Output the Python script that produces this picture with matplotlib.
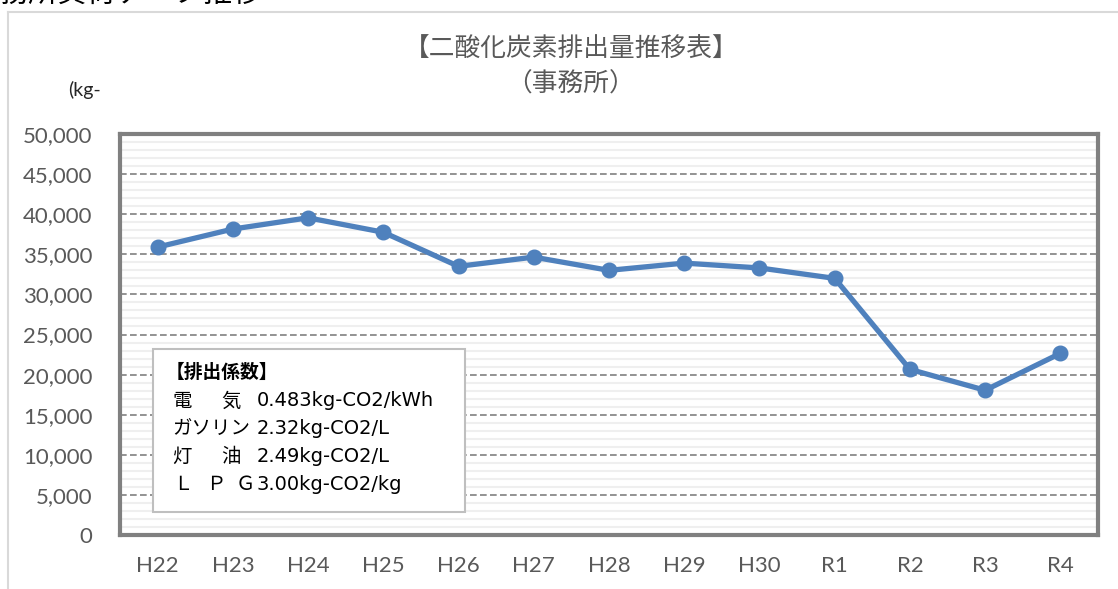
import matplotlib
matplotlib.use("Agg")
import matplotlib.pyplot as plt
from matplotlib.patches import Rectangle
from matplotlib.lines import Line2D
import numpy as np

categories = ["H22", "H23", "H24", "H25", "H26", "H27", "H28", "H29", "H30", "R1", "R2", "R3", "R4"]
co2_values = [35900, 38150, 39550, 37750, 33500, 34650, 33000, 33900, 33300, 32000, 20650, 18050, 22650]
y_ticks = list(range(0, 50001, 5000))

title = "【二酸化炭素排出量推移表】"
subtitle = "（事務所）"
unit_label = "(kg-"
page_heading = "事務所負荷データ推移"
factor_title = "【排出係数】"
factor_names = [["電", "気"], ["ガソリン"], ["灯", "油"], ["Ｌ", "Ｐ", "Ｇ"]]
factor_values = ["0.483kg-CO2/kWh", "2.32kg-CO2/L", "2.49kg-CO2/L", "3.00kg-CO2/kg"]

W, H = 1118, 589
fig = plt.figure(figsize=(W / 100, H / 100), dpi=100)
fig.patch.set_facecolor("white")

def fx(px):
    return px / W

def fy(py):
    return 1 - py / H

cjk = ["Noto Sans CJK JP", "DejaVu Sans"]
num_font = ["Lato", "DejaVu Sans"]
gray_text = "#595959"

# outer chart frame
fig.add_artist(Line2D([fx(8), fx(1118)], [fy(12), fy(12)], color="#d9d9d9", lw=1.5))
fig.add_artist(Line2D([fx(8), fx(8)], [fy(12), fy(589)], color="#d9d9d9", lw=1.5))

# heading cut off at top
fig.text(fx(-29), fy(10), page_heading, family=cjk, fontsize=21, color="black",
         ha="left", va="bottom")

ax = fig.add_axes([fx(120), fy(535), fx(1098) - fx(120), fy(134) - fy(535)])
x = np.arange(len(categories))
ax.set_xlim(-0.5, len(categories) - 0.5)
ax.set_ylim(0, 50000)

# minor gridlines
for v in range(1000, 50000, 1000):
    if v % 5000 != 0:
        ax.axhline(v, color="#efefef", lw=1.5, zorder=0)
for v in y_ticks[1:-1]:
    ax.axhline(v, color="#808080", lw=1.2, ls=(0, (4, 2)), zorder=1)

ax.plot(x, co2_values, color="#4F81BD", lw=3.8, marker="o", ms=10.5, zorder=5,
        solid_capstyle="round")

for s in ax.spines.values():
    s.set_color("#808080")
    s.set_linewidth(3)

ax.set_xticks(x)
ax.set_xticklabels(categories)
ax.set_yticks(y_ticks)
ax.set_yticklabels([f"{v:,}" for v in y_ticks])
ax.tick_params(axis="both", length=0, labelcolor=gray_text, labelsize=16)
ax.tick_params(axis="x", pad=15)
ax.tick_params(axis="y", pad=20)
for lab in ax.get_xticklabels() + ax.get_yticklabels():
    lab.set_family(num_font)

# titles
fig.text(fx(571), fy(50), title, family=cjk, fontsize=18.5, color=gray_text, ha="center", va="center")
fig.text(fx(571), fy(85), subtitle, family=cjk, fontsize=18.5, color=gray_text, ha="center", va="center")
fig.text(fx(68), fy(90), unit_label, family=num_font, fontsize=14, color="#262626", ha="left", va="center")

# emission factor box
fig.add_artist(Rectangle((fx(153), fy(512)), fx(465) - fx(153), fy(349) - fy(512),
                         facecolor="white", edgecolor="#bfbfbf", lw=1.5, zorder=10))
fig.text(fx(166), fy(372), factor_title, family=cjk, fontsize=13.5, fontweight="bold", color="black",
         ha="left", va="center", zorder=11)
rows_y = [401, 429, 457, 485]
name_x = {1: [172], 2: [172, 221], 3: [173, 206, 236]}
for parts, val, yy in zip(factor_names, factor_values, rows_y):
    for part, px in zip(parts, name_x[len(parts)]):
        fig.text(fx(px), fy(yy), part, family=cjk, fontsize=14, color="black",
                 ha="left", va="center", zorder=11)
    fig.text(fx(257), fy(yy), val, family=["DejaVu Sans"], fontsize=14, color="black",
             ha="left", va="center", zorder=11)

fig.savefig("out.png", dpi=100)
